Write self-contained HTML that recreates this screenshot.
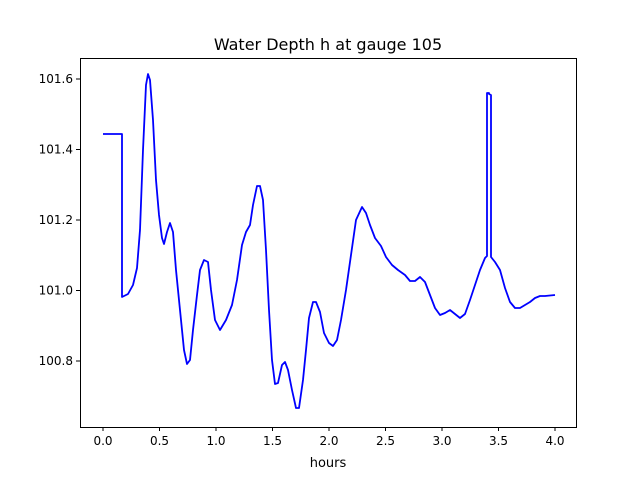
<!DOCTYPE html>
<html><head><meta charset="utf-8"><style>body{margin:0;background:#fff}</style></head><body>
<svg width="640" height="480" xmlns="http://www.w3.org/2000/svg" font-family="DejaVu Sans, Liberation Sans, sans-serif" font-size="12">
<rect width="640" height="480" fill="#fff"/>
<text x="328" y="50" text-anchor="middle" font-size="16">Water Depth h at gauge 105</text>
<polyline fill="none" stroke="#0000ff" stroke-width="1.8" stroke-linejoin="round" points="103,134 122,134 122,297 128,294 133,285 137,268 140,230 143,150 146,85 148,74 150,80 153,120 156,180 159,215 162,238 164,244 167,232 170,223 173,232 176,270 180,310 184,350 187,364 190,360 193,330 197,295 200,270 204,260 208,262 211,290 215,320 220,330 226,320 232,305 237,280 242,245 246,232 250,225 253,205 257,186 260,186 263,200 266,250 269,310 272,360 275,384 278,383 282,365 285,362 288,370 292,390 296,408 299,408 303,380 306,350 309,318 313,302 316,302 320,312 324,333 329,343 333,346 337,340 341,320 346,290 351,255 356,220 362,207 366,213 370,225 375,238 381,246 386,257 392,265 398,270 405,275 410,281 415,281 420,277 425,282 430,295 435,308 440,315 445,313 450,310 455,314 460,318 465,314 470,300 475,285 480,270 485,258 487,256 487,93 489,93 489,94 491,95 491,257 495,262 500,270 505,288 510,302 515,308 520,308 525,305 530,302 535,298 540,296 545,296 555,295"/>
<rect x="80.5" y="58.5" width="496" height="369" fill="none" stroke="#000" stroke-width="1"/>
<g stroke="#000">
<line x1="103" y1="427" x2="103" y2="431"/><line x1="159.5" y1="427" x2="159.5" y2="431"/><line x1="216" y1="427" x2="216" y2="431"/><line x1="272.5" y1="427" x2="272.5" y2="431"/><line x1="329" y1="427" x2="329" y2="431"/><line x1="385.5" y1="427" x2="385.5" y2="431"/><line x1="442" y1="427" x2="442" y2="431"/><line x1="498.5" y1="427" x2="498.5" y2="431"/><line x1="555" y1="427" x2="555" y2="431"/>
<line x1="76" y1="79" x2="80" y2="79"/><line x1="76" y1="149.5" x2="80" y2="149.5"/><line x1="76" y1="220" x2="80" y2="220"/><line x1="76" y1="290.5" x2="80" y2="290.5"/><line x1="76" y1="361" x2="80" y2="361"/>
</g>
<g text-anchor="middle">
<text x="103" y="445">0.0</text><text x="159.5" y="445">0.5</text><text x="216" y="445">1.0</text><text x="272.5" y="445">1.5</text><text x="329" y="445">2.0</text><text x="385.5" y="445">2.5</text><text x="442" y="445">3.0</text><text x="498.5" y="445">3.5</text><text x="555" y="445">4.0</text>
<text x="328" y="467" font-size="13">hours</text>
</g>
<g text-anchor="end">
<text x="73" y="83">101.6</text><text x="73" y="153.5">101.4</text><text x="73" y="224">101.2</text><text x="73" y="294.5">101.0</text><text x="73" y="365">100.8</text>
</g>
</svg>
</body></html>
